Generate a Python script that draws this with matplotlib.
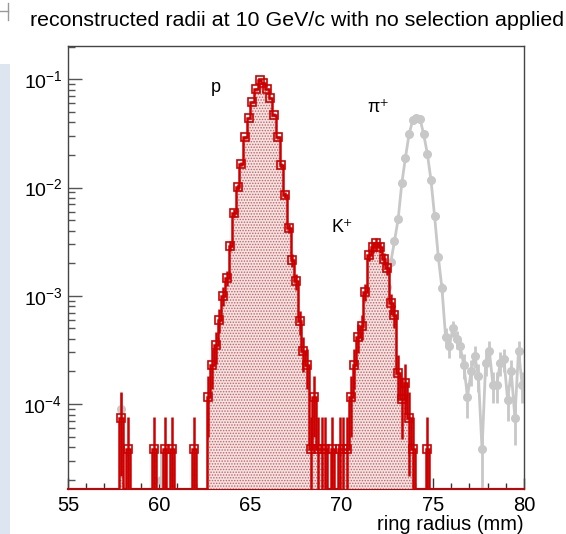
import numpy as np
import matplotlib
matplotlib.use('Agg')
import matplotlib.pyplot as plt
from matplotlib.ticker import FixedLocator, FixedFormatter, NullFormatter, MultipleLocator
from matplotlib.patches import Rectangle
from matplotlib.lines import Line2D

plt.rcParams['font.family'] = ['Liberation Sans', 'DejaVu Sans']
plt.rcParams['mathtext.fontset'] = 'custom'
plt.rcParams['mathtext.rm'] = 'Liberation Sans'
plt.rcParams['mathtext.it'] = 'Liberation Sans:italic'
plt.rcParams['mathtext.sf'] = 'Liberation Sans'
plt.rcParams['hatch.linewidth'] = 0.7

# ---------------- data ----------------
title = "reconstructed radii at 10 GeV/c with no selection applied"
x_label = "ring radius (mm)"
x_min, x_max, bin_width = 55.0, 80.0, 0.2
y_min, y_max = 1.64e-5, 0.203
x_ticks = [55, 60, 65, 70, 75, 80]
y_ticks = [1e-4, 1e-3, 1e-2, 1e-1]
y_tick_labels = [r"$10^{-4}$", r"$10^{-3}$", r"$10^{-2}$", r"$10^{-1}$"]

# red histogram (protons + kaons): bin centres (mm) and normalised contents
red_centers = [57.9, 58.3, 59.7, 60.3, 60.7, 61.9,
               62.7, 62.9, 63.1, 63.3, 63.5, 63.7, 63.9, 64.1, 64.3, 64.5,
               64.7, 64.9, 65.1, 65.3, 65.5, 65.7, 65.9, 66.1, 66.3, 66.5,
               66.7, 66.9, 67.1, 67.3, 67.5, 67.7, 67.9, 68.1, 68.3, 68.5,
               68.7, 68.9, 69.1, 69.5, 69.9, 70.1, 70.3, 70.5, 70.7, 70.9,
               71.1, 71.3, 71.5, 71.7, 71.9, 72.1, 72.3, 72.5, 72.7, 72.9,
               73.1, 73.3, 73.5, 73.7, 73.9, 74.7]
red_values = [7.5e-5, 3.8e-5, 3.8e-5, 3.8e-5, 3.8e-5, 3.8e-5,
              1.16e-4, 2.3e-4, 3.5e-4, 6.0e-4, 1.0e-3, 1.46e-3, 2.9e-3, 5.8e-3, 1.01e-2, 1.65e-2,
              2.9e-2, 4.4e-2, 6.2e-2, 8.1e-2, 9.9e-2, 9.2e-2, 8.1e-2, 6.7e-2, 4.7e-2, 2.9e-2,
              1.6e-2, 8.5e-3, 4.2e-3, 2.13e-3, 1.36e-3, 5.8e-4, 3.06e-4, 2.3e-4, 3.8e-5, 1.16e-4,
              3.8e-5, 3.8e-5, 3.8e-5, 3.8e-5, 3.8e-5, 3.8e-5, 3.8e-5, 1.16e-4, 2.3e-4, 4.2e-4,
              5.3e-4, 1.09e-3, 2.4e-3, 2.8e-3, 3.1e-3, 2.8e-3, 2.2e-3, 1.8e-3, 8.5e-4, 6.6e-4,
              1.95e-4, 1.12e-4, 1.58e-4, 7.5e-5, 3.8e-5, 3.8e-5]
red_entry_weight = 3.77e-5   # value of one entry

# grey histogram (pions)
grey_centers = [72.3, 72.5, 72.7, 72.9, 73.1, 73.3, 73.5, 73.7, 73.9, 74.1,
                74.3, 74.5, 74.7, 74.9, 75.1, 75.3, 75.5, 75.7, 75.9, 76.1,
                76.3, 76.5, 76.7, 76.9, 77.1, 77.3, 77.5, 77.7, 77.9, 78.1,
                78.3, 78.5, 78.7, 78.9, 79.1, 79.3, 79.5, 79.7, 79.9]
grey_values = [6.0e-4, 1.2e-3, 2.06e-3, 3.2e-3, 5.1e-3, 1.09e-2, 1.89e-2, 3.12e-2, 4.2e-2, 4.41e-2,
               4.3e-2, 3.1e-2, 2.06e-2, 1.17e-2, 5.4e-3, 2.3e-3, 1.18e-3, 4.2e-4, 3.4e-4, 5.0e-4,
               4.0e-4, 3.4e-4, 2.3e-4, 1.16e-4, 2.0e-4, 2.8e-4, 1.8e-4, 3.8e-5, 2.4e-4, 3.1e-4,
               1.5e-4, 1.5e-4, 2.4e-4, 2.6e-4, 1.1e-4, 2.0e-4, 7.5e-5, 3.1e-4, 1.5e-4]
grey_iso_centers = [57.9, 60.1]
grey_iso_values = [9.0e-5, 2.0e-5]
grey_entry_weight = 1.5e-5

labels = [("p", 216, 88), ("π⁺", 378, 108), ("K⁺", 342, 228)]

# ---------------- styles ----------------
RED = '#cc0000'
GREY = '#c8c8c8'
W, H = 566, 534

fig = plt.figure(figsize=(W / 100, H / 100), dpi=100)
ax = fig.add_axes([68 / W, 1 - 489 / H, (524 - 68) / W, (489 - 46) / H])

# blue strip and corner mark
fig.patches.append(Rectangle((0, 0), 10 / W, (534 - 64) / H, transform=fig.transFigure,
                             facecolor='#dde6f0', edgecolor='none', zorder=0))
fig.lines.append(Line2D([0, 8 / W], [1 - 11 / H, 1 - 11 / H], transform=fig.transFigure,
                        color='#999999', lw=1))
fig.lines.append(Line2D([8 / W, 8 / W], [1 - 3 / H, 1 - 20 / H], transform=fig.transFigure,
                        color='#999999', lw=1))

nb = int(round((x_max - x_min) / bin_width))
edges = np.linspace(x_min, x_max, nb + 1)
red_full = np.zeros(nb)
for c, v in zip(red_centers, red_values):
    red_full[int(round((c - x_min) / bin_width - 0.5))] = v
red_plot = np.clip(red_full, y_min, None)

# grey pions first
gv = np.array(grey_values)
gerr = np.sqrt(gv * grey_entry_weight)
ax.errorbar(grey_centers, gv, yerr=[np.minimum(gerr, gv - 1e-9), gerr], fmt='o-',
            color=GREY, ms=5.5, lw=2, elinewidth=2, capsize=0, zorder=2)
giv = np.array(grey_iso_values)
gierr = np.sqrt(giv * grey_entry_weight)
ax.errorbar(grey_iso_centers, giv, yerr=[np.minimum(gierr, giv - 1e-9), gierr], fmt='o',
            color=GREY, ms=5.5, elinewidth=2, capsize=0, zorder=2)

# red histogram fill
ax.fill_between(edges, np.append(red_plot, red_plot[-1]), y_min, step='post',
                facecolor='#f2e4e4', edgecolor='#c86060', hatch='......', linewidth=0, zorder=3)
ax.stairs(red_plot, edges, baseline=y_min, color=RED, lw=1.8, zorder=4)
rv = np.array(red_values)
rerr = np.sqrt(rv * red_entry_weight)
ax.errorbar(red_centers, rv, yerr=[np.minimum(rerr, rv - 1e-9), rerr], fmt='s',
            mfc='none', mec=RED, mew=1.2, ms=6, ecolor=RED, elinewidth=1.8,
            capsize=0, zorder=5)

ax.set_xlim(x_min, x_max)
ax.set_yscale('log')
ax.set_ylim(y_min, y_max)

ax.xaxis.set_major_locator(FixedLocator(x_ticks))
ax.xaxis.set_minor_locator(MultipleLocator(1))
ax.yaxis.set_major_locator(FixedLocator(y_ticks))
ax.yaxis.set_major_formatter(FixedFormatter(y_tick_labels))
minor_y = [m * 10.0 ** e for e in range(-5, 0) for m in range(2, 10)]
ax.yaxis.set_minor_locator(FixedLocator(minor_y))
ax.yaxis.set_minor_formatter(NullFormatter())
ax.tick_params(axis='x', which='major', direction='in', length=8, width=1, color='#333333',
               labelsize=14.5, pad=5, top=False)
ax.tick_params(axis='x', which='minor', direction='in', length=4, width=1, color='#333333', top=False)
ax.tick_params(axis='y', which='major', direction='in', length=10, width=1, color='#555555',
               labelsize=14, pad=4, right=False)
ax.tick_params(axis='y', which='minor', direction='in', length=5, width=1, color='#555555', right=False)

for s in ['left', 'top', 'right']:
    ax.spines[s].set_color('#444444')
    ax.spines[s].set_linewidth(1)
ax.spines['bottom'].set_color(RED)
ax.spines['bottom'].set_linewidth(1.5)

fig.text(30 / W, 1 - 20 / H, title, fontsize=15.4, ha='left', va='center')
fig.text(524 / W, 1 - 524 / H, x_label, fontsize=14.5, ha='right', va='center')
for txt, px, py in labels:
    fig.text(px / W, 1 - py / H, txt, fontsize=13, ha='center', va='center')

fig.savefig('out.png', dpi=100)
